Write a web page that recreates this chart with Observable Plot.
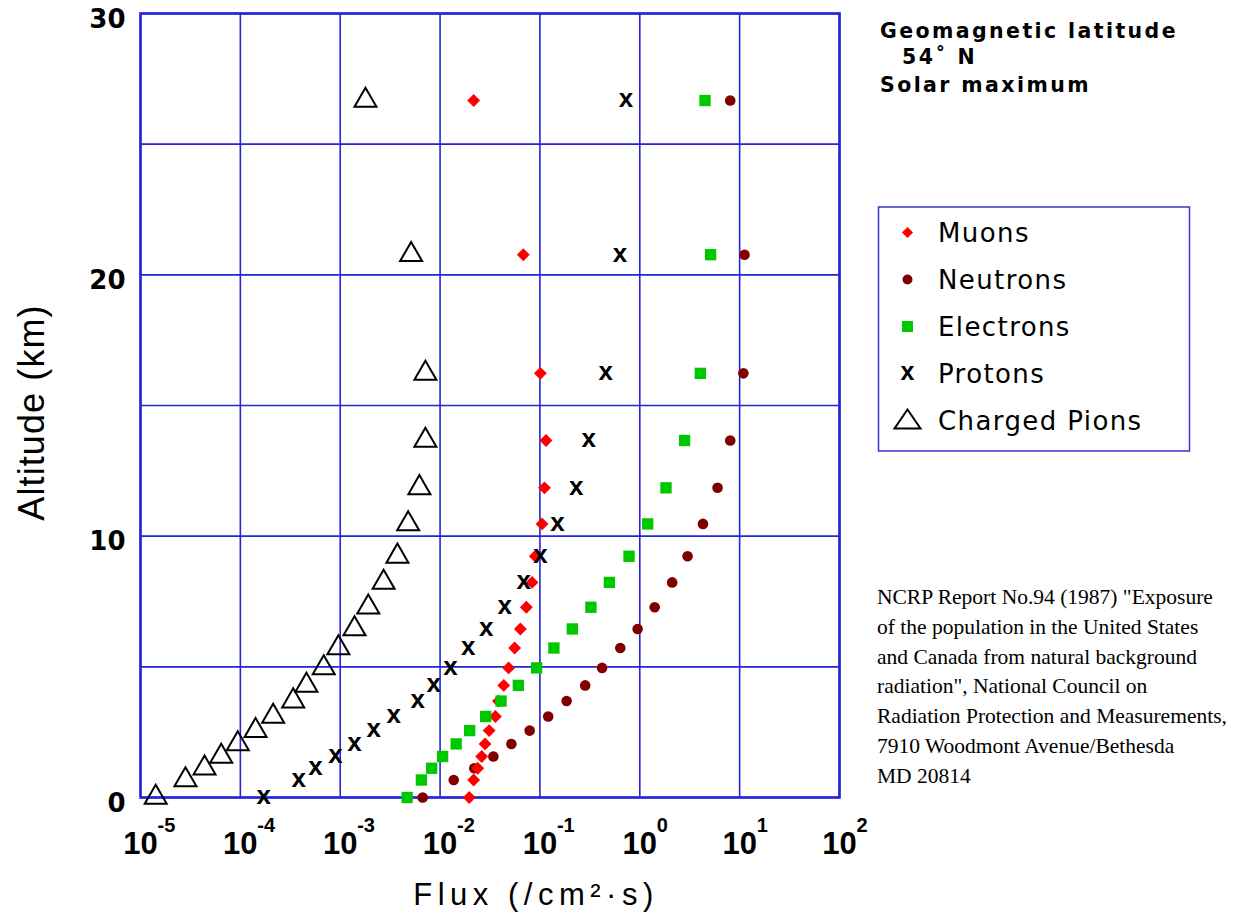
<!DOCTYPE html>
<html><head><meta charset="utf-8">
<script src="https://cdn.jsdelivr.net/npm/d3@7"></script>
<script src="https://cdn.jsdelivr.net/npm/@observablehq/plot@0.6"></script>
<style>
body{margin:0;background:#fff}
#wrap{position:relative;width:1234px;height:923px;background:#fff}
#wrap svg{position:absolute;left:0;top:0}
</style></head><body><div id="wrap"></div>
<script>
// ---- data ----
const altitudes = [26.67, 20.77, 16.23, 13.66, 11.85, 10.47, 9.23, 8.23, 7.28, 6.45, 5.72, 4.96, 4.29, 3.69, 3.10, 2.56, 2.05, 1.57, 1.12, 0.67, 0];
const muons     = [0.0217, 0.0682, 0.101, 0.115, 0.111, 0.105, 0.0899, 0.0834, 0.0731, 0.0637, 0.0558, 0.0486, 0.0434, 0.0384, 0.0358, 0.031, 0.0282, 0.0261, 0.0238, 0.0217, 0.0196];
const neutrons  = [8.05, 11.2, 10.9, 8.05, 6.01, 4.29, 3.01, 2.11, 1.41, 0.951, 0.638, 0.419, 0.284, 0.185, 0.121, 0.0789, 0.0518, 0.0342, 0.0220, 0.0137, 0.0067];
const electrons = [4.50, 5.12, 4.04, 2.81, 1.83, 1.20, 0.780, 0.496, 0.324, 0.211, 0.138, 0.0927, 0.0608, 0.0408, 0.0286, 0.0198, 0.0145, 0.0106, 0.00824, 0.0065, 0.00468];
const protons   = [0.728, 0.634, 0.455, 0.308, 0.231, 0.150, 0.101, 0.0687, 0.0444, 0.0290, 0.0191, 0.0127, 0.00863, 0.00597, 0.00344, 0.00216, 0.00139, 0.000895, 0.000565, 0.000385, 0.000171];
const pions     = [0.00179, 0.00513, 0.00713, 0.00713, 0.00621, 0.00479, 0.00374, 0.00272, 0.00191, 0.00139, 0.000959, 0.000684, 0.000459, 0.000338, 0.000213, 0.000142, 0.0000942, 0.0000643, 0.0000438, 0.0000282, 0.0000142];
const seriesNames = ["Muons", "Neutrons", "Electrons", "Protons", "Charged Pions"];
const xTicks = [1e-5, 1e-4, 1e-3, 1e-2, 1e-1, 1, 10, 100];
const xTickBase = "10";
const xTickExponents = ["-5", "-4", "-3", "-2", "-1", "0", "1", "2"];
const yTicks = [0, 10, 20, 30];
const yGridTicks = [0, 5, 10, 15, 20, 25, 30];
const xTitle = "Flux (/cm²·s)";
const yTitle = "Altitude (km)";
const noteLines = ["Geomagnetic latitude", "54˚ N", "Solar maximum"];
const citeLines = ["NCRP Report No.94 (1987) \"Exposure", "of the population in the United States", "and Canada from natural background", "radiation\", National Council on", "Radiation Protection and Measurements,", "7910 Woodmont Avenue/Bethesda", "MD 20814"];

// ---- build tables ----
const toRows = (vals, name) => vals.map((v, i) => ({series: name, alt: altitudes[i], flux: v}));
const muonRows = toRows(muons, seriesNames[0]);
const neutronRows = toRows(neutrons, seriesNames[1]);
const electronRows = toRows(electrons, seriesNames[2]);
const protonRows = toRows(protons, seriesNames[3]);
const pionRows = toRows(pions, seriesNames[4]);

const BLUE = "#2424d8";
const colors = {Muons: "#ff0000", Neutrons: "#800000", Electrons: "#00c800"};

const chart = Plot.plot({
  width: 1234, height: 923,
  marginLeft: 140, marginRight: 395, marginTop: 13, marginBottom: 126,
  style: {background: "white", fontFamily: "'Liberation Sans', Arial, sans-serif", overflow: "visible", color: "black"},
  x: {type: "log", domain: [1e-5, 1e2]},
  y: {domain: [0, 30]},
  marks: [
    Plot.gridX(xTicks, {stroke: BLUE, strokeOpacity: 1, strokeWidth: 1.6}),
    Plot.gridY(yGridTicks, {stroke: BLUE, strokeOpacity: 1, strokeWidth: 1.6}),
    Plot.frame({stroke: BLUE, strokeWidth: 2.6}),
    Plot.axisY(yTicks, {tickSize: 0, tickPadding: 15, fontSize: 26, fontWeight: "bold", fontFamily: "DejaVu Sans", dy: 6, label: null}),
    Plot.axisX(xTicks, {tickSize: 0, tickPadding: 34, tickFormat: () => xTickBase, fontSize: 31, fontWeight: "bold", label: null}),
    Plot.axisX(xTicks, {tickSize: 0, tickPadding: 20.5, tickFormat: d => xTickExponents[xTicks.indexOf(d)], fontSize: 20, fontWeight: "bold", textAnchor: "start", dx: 17, label: null}),
    Plot.dot(pionRows, {x: "flux", y: "alt", symbol: "triangle2", r: 10.5, stroke: "black", strokeWidth: 2, fill: "none"}),
    Plot.dot(neutronRows, {x: "flux", y: "alt", symbol: "circle", r: 5.3, fill: colors.Neutrons}),
    Plot.dot(muonRows, {x: "flux", y: "alt", symbol: "diamond2", r: 5.8, fill: colors.Muons}),
    Plot.dot(electronRows, {x: "flux", y: "alt", symbol: "square", r: 6.4, fill: colors.Electrons}),
    Plot.text(protonRows, {x: "flux", y: "alt", text: () => "x", fontSize: 26, fontWeight: "bold", fill: "black", dy: -1.5}),
    Plot.text([xTitle], {frameAnchor: "bottom", textAnchor: "middle", lineAnchor: "middle", dx: 46, dy: 98, fontSize: 31, fill: "black"}),
    Plot.text([yTitle], {frameAnchor: "left", textAnchor: "middle", lineAnchor: "middle", rotate: -90, dx: -108, dy: 7, fontSize: 36, fill: "black"})
  ]
});

d3.select(chart).selectAll("text").each(function () {
  const t = this.textContent;
  if (t === xTitle) this.setAttribute("letter-spacing", "5.5px");
  if (t === yTitle) this.setAttribute("letter-spacing", "1.1px");
});

const wrap = document.getElementById("wrap");
wrap.appendChild(chart);

// ---- overlay: note, legend, citation ----
const ov = d3.create("svg").attr("width", 1234).attr("height", 923).style("pointer-events", "none");
const note = ov.append("g").attr("font-family", "DejaVu Sans").attr("font-weight", "bold").attr("font-size", 20.5).attr("letter-spacing", "2.4px").attr("fill", "black");
const noteX = [880, 902, 880], noteY = [38, 64, 92];
noteLines.forEach((t, i) => note.append("text").attr("x", noteX[i]).attr("y", noteY[i]).text(t));

const lg = ov.append("g");
lg.append("rect").attr("x", 878.5).attr("y", 207).attr("width", 311).attr("height", 244).attr("fill", "white").attr("stroke", "#3535c8").attr("stroke-width", 1.5);
const symX = 907.5, txtX = 938, rowY0 = 232.5, rowStep = 47;
seriesNames.forEach((name, i) => {
  const cy = rowY0 + i * rowStep;
  const g = lg.append("g").attr("transform", `translate(${symX},${cy})`);
  if (name === "Muons") g.append("path").attr("d", d3.symbol(d3.symbolDiamond2, Math.PI * 5 * 5)()).attr("fill", colors.Muons);
  if (name === "Neutrons") g.append("circle").attr("r", 5).attr("fill", colors.Neutrons);
  if (name === "Electrons") g.append("rect").attr("x", -5.5).attr("y", -5.5).attr("width", 11).attr("height", 11).attr("fill", colors.Electrons);
  if (name === "Protons") g.append("text").attr("text-anchor", "middle").attr("y", 6).attr("font-family", "'Liberation Sans', Arial").attr("font-weight", "bold").attr("font-size", 25).text("x");
  if (name === "Charged Pions") g.append("path").attr("d", "M0,-11L13,8L-13,8Z").attr("fill", "none").attr("stroke", "black").attr("stroke-width", 2);
  lg.append("text").attr("x", txtX).attr("y", cy + 9.5).attr("font-family", "DejaVu Sans").attr("font-size", 26).attr("letter-spacing", "1.4px").attr("fill", "black").text(name);
});

const cite = ov.append("g").attr("font-family", "'Liberation Serif', 'Times New Roman', serif").attr("font-size", 21.5).attr("fill", "black");
citeLines.forEach((t, i) => cite.append("text").attr("x", 877).attr("y", 604 + i * 29.8).text(t));

wrap.appendChild(ov.node());
</script></body></html>
